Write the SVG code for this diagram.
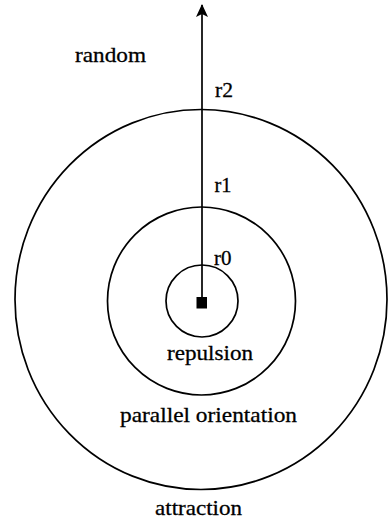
<svg xmlns="http://www.w3.org/2000/svg" width="388" height="520" viewBox="0 0 388 520">
<style>
.ring{fill:none;stroke:#000;stroke-width:1.7}
.lbl{font-family:'Liberation Serif','Times New Roman',serif;font-size:22px;fill:#000;stroke:#000;stroke-width:0.3}
.conn{stroke:#000;stroke-width:1.7;fill:none}
</style>
<defs>
<marker id="arr" viewBox="0 0 13 12" refX="12" refY="6" markerWidth="13" markerHeight="12" markerUnits="userSpaceOnUse" orient="auto">
<path d="M13,6 L0,0 L3,6 L0,12 Z" fill="#000"/>
</marker>
</defs>
<rect width="388" height="520" fill="#fff"/>
<g id="zone-attraction">
<ellipse class="ring" cx="201" cy="299.5" rx="186" ry="190"/>
<text class="lbl" x="155" y="515" textLength="87" lengthAdjust="spacingAndGlyphs">attraction</text>
</g>
<g id="zone-orientation">
<circle class="ring" cx="201.5" cy="301" r="94"/>
<text class="lbl" x="120" y="422" textLength="177" lengthAdjust="spacingAndGlyphs">parallel orientation</text>
</g>
<g id="zone-repulsion">
<circle class="ring" cx="202" cy="301" r="36"/>
<text class="lbl" x="167" y="360" textLength="86" lengthAdjust="spacingAndGlyphs">repulsion</text>
</g>
<g id="zone-random">
<text class="lbl" x="75" y="62" textLength="71" lengthAdjust="spacingAndGlyphs">random</text>
</g>
<g id="center">
<rect x="196.5" y="297" width="10.5" height="11.5" fill="#000"/>
</g>
<g id="connectors">
<line class="conn" x1="202" y1="298" x2="202" y2="5" marker-end="url(#arr)"/>
</g>
<g id="radius-labels">
<text class="lbl" x="215" y="97" textLength="18" lengthAdjust="spacingAndGlyphs">r2</text>
<text class="lbl" x="214.5" y="192" textLength="17" lengthAdjust="spacingAndGlyphs">r1</text>
<text class="lbl" x="214" y="264.5" textLength="17.5" lengthAdjust="spacingAndGlyphs">r0</text>
</g>
</svg>
